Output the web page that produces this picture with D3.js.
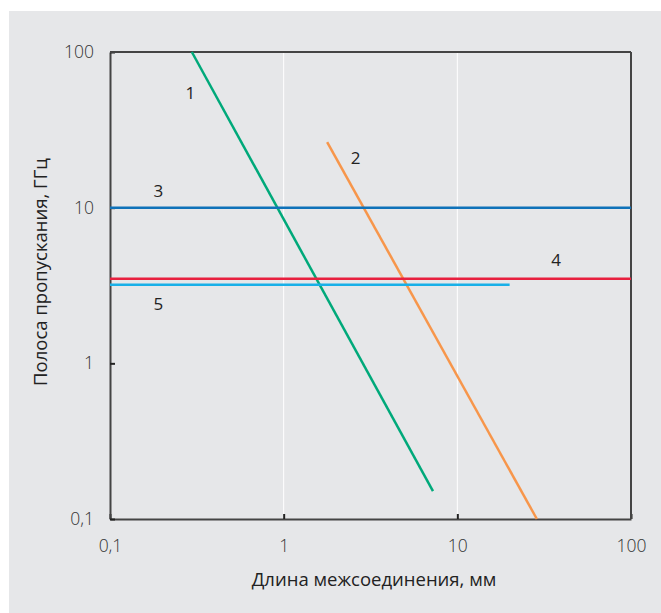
<!DOCTYPE html>
<html><head><meta charset="utf-8">
<script src="https://cdn.jsdelivr.net/npm/d3@7"></script>
<style>body{margin:0;background:#fff;} text{font-family:"Open Sans",sans-serif;}</style>
</head><body>
<script>
// Data
const xTicks = [0.1, 1, 10, 100];
const yTicks = [0.1, 1, 10, 100];
const tickLabels = ["0,1", "1", "10", "100"];
const seriesNames = ["1", "2", "3", "4", "5"];
const series1 = [[0.296, 100], [7.24, 0.151]];
const series2 = [[1.78, 26.4], [28.7, 0.1]];
const series3 = [[0.1, 10], [100, 10]];
const series4 = [[0.1, 3.5], [100, 3.5]];
const series5 = [[0.1, 3.2], [20, 3.2]];
const labelPos = [[0.29, 53], [2.6, 20.5], [0.19, 12.5], [37, 4.5], [0.19, 2.35]];
const colors = ["#00a97a", "#f7964b", "#0f72b9", "#e8203f", "#18b0e8"];

const W = 661, H = 613;
const svg = d3.select("body").append("svg").attr("width", W).attr("height", H);
svg.append("rect").attr("x", 9).attr("y", 11).attr("width", W - 9).attr("height", H - 11).attr("fill", "#e6e7e9");

const L = 110, R = 631, T = 52, B = 519;
const x = d3.scaleLog().domain([0.1, 100]).range([L, R]);
const y = d3.scaleLog().domain([0.1, 100]).range([B, T]);

// gridlines
svg.append("g").selectAll("line").data([1, 10]).join("line")
  .attr("x1", d => x(d)).attr("x2", d => x(d)).attr("y1", T).attr("y2", B)
  .attr("stroke", "#fff").attr("stroke-width", 1);

// axes
const fmt = d => tickLabels[xTicks.indexOf(d)];
const xAxis = svg.append("g").attr("transform", `translate(0,${B})`)
  .call(d3.axisBottom(x).tickValues(xTicks).tickFormat(fmt).tickSizeInner(-5).tickSizeOuter(0).tickPadding(21));
const yAxis = svg.append("g").attr("transform", `translate(${L},0)`)
  .call(d3.axisLeft(y).tickValues(yTicks).tickFormat(fmt).tickSizeInner(-5).tickSizeOuter(0).tickPadding(16));
[xAxis, yAxis].forEach(a => {
  a.select(".domain").attr("stroke", "#444").attr("stroke-width", 2);
  a.selectAll(".tick line").attr("stroke", "#222").attr("stroke-width", 2);
  a.selectAll(".tick text").attr("fill", "#333").style("font-size", "17.5px").style("font-family", "Open Sans").style("font-weight", 300);
});
// top and right frame
svg.append("line").attr("x1", L).attr("x2", R).attr("y1", T).attr("y2", T).attr("stroke", "#444").attr("stroke-width", 2);
svg.append("line").attr("x1", R).attr("x2", R).attr("y1", T).attr("y2", B).attr("stroke", "#444").attr("stroke-width", 2);

// lines
const line = d3.line().x(d => x(d[0])).y(d => y(d[1]));
const all = [series1, series2, series3, series4, series5];
svg.append("g").selectAll("path").data(all).join("path")
  .attr("d", line).attr("fill", "none")
  .attr("stroke", (d, i) => colors[i]).attr("stroke-width", 2.5);

// labels
svg.append("g").selectAll("text").data(labelPos).join("text")
  .attr("x", d => x(d[0])).attr("y", d => y(d[1]))
  .attr("text-anchor", "middle").attr("dominant-baseline", "middle")
  .attr("fill", "#222").style("font-size", "17px")
  .text((d, i) => seriesNames[i]);

// axis titles
svg.append("text").attr("x", 374).attr("y", 586).attr("text-anchor", "middle")
  .attr("fill", "#222").style("font-size", "18.5px").text("Длина межсоединения, мм");
svg.append("text").attr("transform", "translate(47,272) rotate(-90)").attr("text-anchor", "middle")
  .attr("fill", "#222").style("font-size", "18.5px").text("Полоса пропускания, ГГц");
</script>
</body></html>
